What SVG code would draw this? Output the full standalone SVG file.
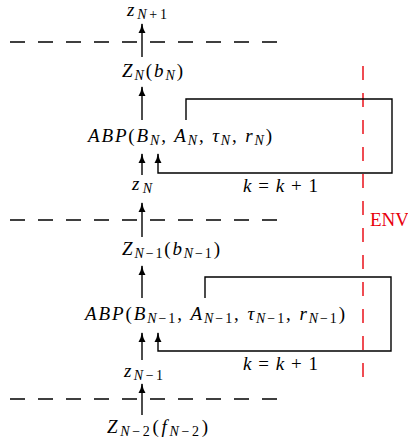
<svg xmlns="http://www.w3.org/2000/svg" width="408" height="443" viewBox="0 0 408 443">
<style>
.m{font-family:"Liberation Serif","DejaVu Serif",serif;font-size:19px;font-style:italic;fill:#000}
.r{font-style:normal}
.s{font-size:14px}
.ln{stroke:#000;stroke-width:1.4;fill:none}
.dash{stroke:#000;stroke-width:1.4;stroke-dasharray:15 13;fill:none}
.env{stroke:#e8000b;stroke-width:1.4;stroke-dasharray:14 13;fill:none}
</style>
<defs>
<marker id="ah" markerUnits="userSpaceOnUse" markerWidth="10" markerHeight="8" viewBox="0 0 10 8" refX="9" refY="4" orient="auto">
<path d="M0,0.5 Q4,3 10,4 Q4,5 0,7.5 Z" fill="#000"/>
</marker>
</defs>
<g id="separators">
<line class="dash" x1="10" y1="42" x2="277" y2="42"/>
<line class="dash" x1="10" y1="220" x2="277" y2="220"/>
<line class="dash" x1="10" y1="399" x2="277" y2="399"/>
</g>
<g id="env">
<line class="env" x1="363" y1="66" x2="363" y2="388"/>
<text x="370" y="226" font-family="Liberation Serif, serif" font-size="19" fill="#e8000b">ENV</text>
</g>
<g id="connectors">
<line class="ln" x1="142" y1="57" x2="142" y2="24" marker-end="url(#ah)"/>
<line class="ln" x1="142" y1="120" x2="142" y2="87" marker-end="url(#ah)"/>
<line class="ln" x1="142" y1="175" x2="142" y2="154" marker-end="url(#ah)"/>
<line class="ln" x1="142" y1="237" x2="142" y2="203" marker-end="url(#ah)"/>
<line class="ln" x1="142" y1="298" x2="142" y2="266" marker-end="url(#ah)"/>
<line class="ln" x1="142" y1="360" x2="142" y2="333" marker-end="url(#ah)"/>
<line class="ln" x1="142" y1="415" x2="142" y2="384" marker-end="url(#ah)"/>
<path class="ln" d="M186,120 V99 H392 V173 H158 V154" marker-end="url(#ah)"/>
<path class="ln" d="M205,298 V277 H391 V351 H158 V333" marker-end="url(#ah)"/>
</g>
<g id="zN1"><text class="m" x="127" y="16" textLength="40" lengthAdjust="spacing">z<tspan class="s" dy="3">N<tspan class="r">+1</tspan></tspan></text></g>
<g id="ZN"><text class="m" x="122" y="77" textLength="61" lengthAdjust="spacing">Z<tspan class="s" dy="3">N</tspan><tspan class="r" dy="-3">(</tspan>b<tspan class="s" dy="3">N</tspan><tspan class="r" dy="-3">)</tspan></text></g>
<g id="ABPN"><text class="m" x="88" y="142" textLength="184" lengthAdjust="spacing">ABP<tspan class="r">(</tspan>B<tspan class="s" dy="3">N</tspan><tspan class="r" dy="-3">, </tspan>A<tspan class="s" dy="3">N</tspan><tspan class="r" dy="-3">, </tspan>τ<tspan class="s" dy="3">N</tspan><tspan class="r" dy="-3">, </tspan>r<tspan class="s" dy="3">N</tspan><tspan class="r" dy="-3">)</tspan></text></g>
<g id="zN"><text class="m" x="132" y="190" textLength="20" lengthAdjust="spacing">z<tspan class="s" dy="3">N</tspan></text></g>
<g id="k1"><text class="m" x="243" y="192" textLength="75" lengthAdjust="spacing">k <tspan class="r">=</tspan> k <tspan class="r">+ 1</tspan></text></g>
<g id="ZN-1"><text class="m" x="122" y="255" textLength="98" lengthAdjust="spacing">Z<tspan class="s" dy="3">N<tspan class="r">−1</tspan></tspan><tspan class="r" dy="-3">(</tspan>b<tspan class="s" dy="3">N<tspan class="r">−1</tspan></tspan><tspan class="r" dy="-3">)</tspan></text></g>
<g id="ABPN-1"><text class="m" x="85" y="320" textLength="260" lengthAdjust="spacing">ABP<tspan class="r">(</tspan>B<tspan class="s" dy="3">N<tspan class="r">−1</tspan></tspan><tspan class="r" dy="-3">, </tspan>A<tspan class="s" dy="3">N<tspan class="r">−1</tspan></tspan><tspan class="r" dy="-3">, </tspan>τ<tspan class="s" dy="3">N<tspan class="r">−1</tspan></tspan><tspan class="r" dy="-3">, </tspan>r<tspan class="s" dy="3">N<tspan class="r">−1</tspan></tspan><tspan class="r" dy="-3">)</tspan></text></g>
<g id="k2"><text class="m" x="243" y="370" textLength="75" lengthAdjust="spacing">k <tspan class="r">=</tspan> k <tspan class="r">+ 1</tspan></text></g>
<g id="zN-1"><text class="m" x="124" y="377" textLength="39" lengthAdjust="spacing">z<tspan class="s" dy="3">N<tspan class="r">−1</tspan></tspan></text></g>
<g id="ZN-2"><text class="m" x="107" y="433" textLength="101" lengthAdjust="spacing">Z<tspan class="s" dy="3">N<tspan class="r">−2</tspan></tspan><tspan class="r" dy="-3">(</tspan>f<tspan class="s" dy="3">N<tspan class="r">−2</tspan></tspan><tspan class="r" dy="-3">)</tspan></text></g>
</svg>
